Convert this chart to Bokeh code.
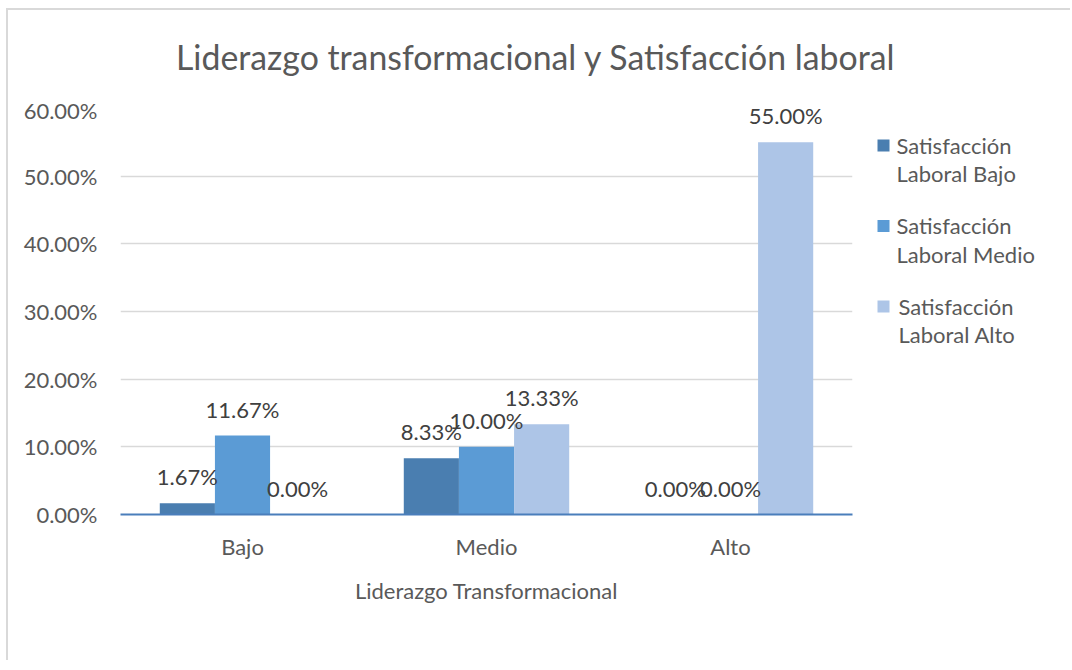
from bokeh.plotting import figure
from bokeh.models import (ColumnDataSource, FactorRange, LabelSet, NumeralTickFormatter,
                          FixedTicker, Div)
from bokeh.core.properties import value
from bokeh.layouts import row, column
from bokeh.transform import dodge
from bokeh.embed import file_html
from bokeh.resources import INLINE

# ---- data ----
title_text = "Liderazgo transformacional y Satisfacción laboral"
categories = ["Bajo", "Medio", "Alto"]
series_names = ["Satisfacción\nLaboral Bajo", "Satisfacción\nLaboral Medio", "Satisfacción\nLaboral Alto"]
sat_bajo = [0.0167, 0.0833, 0.0]
sat_medio = [0.1167, 0.1000, 0.0]
sat_alto = [0.0, 0.1333, 0.55]
y_ticks = [0.0, 0.1, 0.2, 0.3, 0.4, 0.5, 0.6]

colors = ["#4a7eb0", "#5b9bd5", "#adc5e7"]
series = [sat_bajo, sat_medio, sat_alto]
offsets = [-0.226, 0.0, 0.226]
FONT = "Lato"
TXT = "#595959"

# ---- title ----
header = Div(text=title_text, width=1062, height=86, margin=(0, 0, 0, 0),
             styles={"font-family": FONT, "font-size": "33.8px", "color": TXT,
                     "line-height": "1", "padding-top": "31px", "padding-left": "168px",
                     "white-space": "nowrap", "box-sizing": "border-box"})

# ---- main chart ----
p = figure(x_range=FactorRange(*categories, range_padding=0), y_range=(0, 0.6),
           frame_width=732, frame_height=406,
           min_border_left=112, min_border_right=10, min_border_top=12, min_border_bottom=146,
           output_backend="svg", toolbar_location=None)
p.background_fill_color = "white"
p.border_fill_color = "white"
p.outline_line_color = None

for vals, col, off in zip(series, colors, offsets):
    src = ColumnDataSource(dict(cat=categories, val=vals,
                                lab=[f"{v*100:.2f}%" for v in vals]))
    p.vbar(x=dodge("cat", off, range=p.x_range), top="val", width=0.226, source=src,
           fill_color=col, line_color=None)
    p.add_layout(LabelSet(x=dodge("cat", off, range=p.x_range), y="val", text="lab", source=src,
                          y_offset=13, text_align="center", text_baseline="bottom",
                          text_font=value(FONT), text_font_size=value("22px"),
                          text_color=value("#404040")))

p.yaxis.ticker = FixedTicker(ticks=y_ticks)
p.yaxis.formatter = NumeralTickFormatter(format="0.00%")
p.yaxis.axis_line_color = None
p.yaxis.major_tick_line_color = None
p.yaxis.minor_tick_line_color = None
p.yaxis.major_label_standoff = 17
p.yaxis.major_label_text_font = FONT
p.yaxis.major_label_text_font_size = "22px"
p.yaxis.major_label_text_color = TXT

p.xaxis.axis_line_color = "#4a7ebb"
p.xaxis.axis_line_width = 2
p.xaxis.major_tick_line_color = None
p.xaxis.minor_tick_line_color = None
p.xaxis.major_label_standoff = 12
p.xaxis.major_label_text_font = FONT
p.xaxis.major_label_text_font_size = "22px"
p.xaxis.major_label_text_color = TXT
p.xaxis.axis_label = "Liderazgo Transformacional"
p.xaxis.axis_label_standoff = 14
p.xaxis.axis_label_text_font = FONT
p.xaxis.axis_label_text_font_style = "normal"
p.xaxis.axis_label_text_font_size = "22px"
p.xaxis.axis_label_text_color = TXT

p.xgrid.grid_line_color = None
p.ygrid.grid_line_color = "#d9d9d9"
p.ygrid.grid_line_width = 1.5

# ---- legend panel (frame aligned with the chart frame; page-pixel coordinates) ----
lg = figure(frame_width=200, frame_height=406, x_range=(862, 1062), y_range=(514, 108),
            min_border_left=0, min_border_right=0, min_border_top=12, min_border_bottom=146,
            output_backend="svg", toolbar_location=None)
lg.axis.visible = False
lg.grid.grid_line_color = None
lg.outline_line_color = None
lg.background_fill_color = "white"
lg.border_fill_color = "white"

first_line, step, line_gap = 145, 80.5, 28
line1 = [first_line + i * step for i in range(len(series_names))]
lsrc = ColumnDataSource(dict(name=series_names, color=colors, sy=line1,
                             ty=[v + line_gap / 2 for v in line1],
                             sx=[883] * 3, tx=[896, 896, 898]))
lg.scatter(x="sx", y="sy", marker="square", size=12, fill_color="color", line_color=None,
           source=lsrc)
lg.text(x="tx", y="ty", text="name", source=lsrc, text_font=value(FONT),
        text_font_size=value("22px"), text_color=value(TXT), text_baseline="middle",
        text_align="left", text_line_height=1.07)

layout = column(header, row(p, lg, spacing=0), spacing=0, margin=(8, 0, 0, 6),
                styles={"border-top": "2px solid #d9d9d9", "border-left": "2px solid #d9d9d9"})

open("out.html", "w").write(file_html(layout, INLINE))
